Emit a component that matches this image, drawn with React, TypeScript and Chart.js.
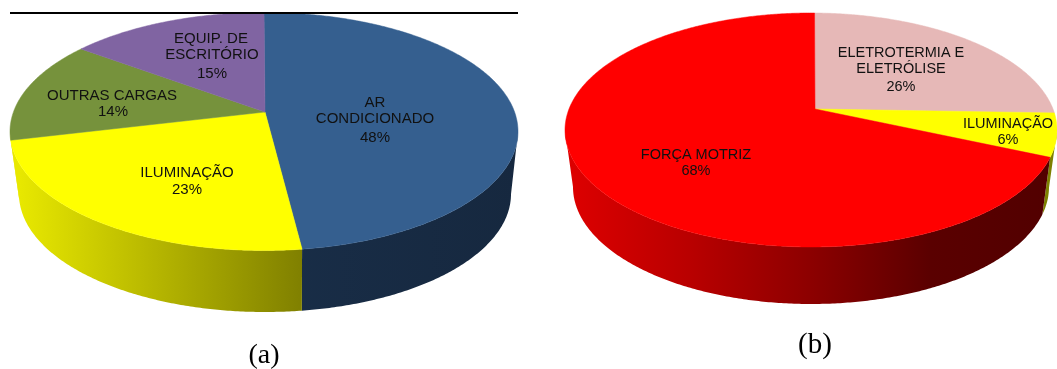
import React, { useEffect, useRef } from "react";
import { Chart, registerables } from "chart.js";

Chart.register(...registerables);

// Electricity end-use shares, in percent
const commercialUses = ["AR CONDICIONADO", "ILUMINAÇÃO", "OUTRAS CARGAS", "EQUIP. DE ESCRITÓRIO"];
const commercialShares = [48, 23, 14, 15];
const commercialColors = ["#355f8f", "#ffff00", "#76923c", "#8064a2"];

const industrialUses = ["ELETROTERMIA E ELETRÓLISE", "ILUMINAÇÃO", "FORÇA MOTRIZ"];
const industrialShares = [26, 6, 68];
const industrialColors = ["#e6b8b7", "#ffff00", "#ff0000"];

type TextLine = [string, number, number];

const commercialLabels: TextLine[] = [
  ["AR", 375, 103],
  ["CONDICIONADO", 375, 119],
  ["48%", 375, 138],
  ["ILUMINAÇÃO", 187, 173],
  ["23%", 187, 190],
  ["OUTRAS CARGAS", 112, 96],
  ["14%", 113, 112],
  ["EQUIP. DE", 211, 39],
  ["ESCRITÓRIO", 212, 55],
  ["15%", 212, 74],
];

const industrialLabels: TextLine[] = [
  ["ELETROTERMIA E", 371, 53],
  ["ELETRÓLISE", 371, 69],
  ["26%", 371, 87],
  ["ILUMINAÇÃO", 478, 124],
  ["6%", 478, 140],
  ["FORÇA MOTRIZ", 166, 155],
  ["68%", 166, 171],
];

type Solid = {
  cx: number; cy: number; rx: number; ry: number;
  apexX: number; apexY: number;
  baseCx: number; baseCy: number; baseRx: number; baseRy: number;
  leanX: number; leanY: number;
  sides: string[][];
  labels: TextLine[];
  labelFont: string;
  caption: string; captionX: number; captionY: number; captionFont: string;
  rule: boolean;
};

// Tilted disc: a rim angle (clockwise from the top) lands on the ellipse after
// a disc-preserving map, which is what foreshortening does to the slice edges.
function rimUnit(t: number, s: Solid) {
  const zr = Math.sin(t);
  const zi = Math.cos(t);
  const nr = zr + s.leanX;
  const ni = zi + s.leanY;
  const dr = 1 + s.leanX * zr + s.leanY * zi;
  const di = s.leanX * zi - s.leanY * zr;
  const m = dr * dr + di * di;
  return { x: (nr * dr + ni * di) / m, y: (ni * dr - nr * di) / m };
}

const solidPlugin = {
  id: "solidPie",
  beforeDatasetsDraw(chart: any, _a: any, opts: Solid) {
    const ctx: CanvasRenderingContext2D = chart.ctx;
    const arcs = chart.getDatasetMeta(0).data;
    const colors = chart.data.datasets[0].backgroundColor as string[];

    // side wall, only where the rim faces the viewer
    arcs.forEach((arc: any, i: number) => {
      const t0 = arc.startAngle + Math.PI / 2;
      const t1 = arc.endAngle + Math.PI / 2;
      const visible: { x: number; y: number }[] = [];
      const steps = Math.max(8, Math.ceil(((t1 - t0) * 180) / Math.PI) * 2);
      for (let k = 0; k <= steps; k++) {
        const u = rimUnit(t0 + ((t1 - t0) * k) / steps, opts);
        if (u.y <= 0) visible.push(u);
      }
      if (visible.length < 2) return;
      const stops = opts.sides[i];
      const grad = ctx.createLinearGradient(
        opts.baseCx - opts.baseRx, 0,
        Math.min(opts.cx + opts.rx, opts.cx + visible[0].x * opts.rx), 0);
      stops.forEach((c, n) => grad.addColorStop(n / (stops.length - 1), c));
      ctx.beginPath();
      visible.forEach((u, k) => {
        const x = opts.cx + u.x * opts.rx;
        const y = opts.cy - u.y * opts.ry;
        if (k === 0) ctx.moveTo(x, y); else ctx.lineTo(x, y);
      });
      [...visible].reverse().forEach((u) => {
        ctx.lineTo(opts.baseCx + u.x * opts.baseRx, opts.baseCy - u.y * opts.baseRy);
      });
      ctx.closePath();
      ctx.fillStyle = grad;
      ctx.fill();
    });

    // top face, each slice fanned out from the foreshortened centre
    arcs.forEach((arc: any, i: number) => {
      const t0 = arc.startAngle + Math.PI / 2;
      const t1 = arc.endAngle + Math.PI / 2;
      const steps = Math.max(8, Math.ceil(((t1 - t0) * 180) / Math.PI) * 2);
      ctx.beginPath();
      ctx.moveTo(opts.apexX, opts.apexY);
      for (let k = 0; k <= steps; k++) {
        const u = rimUnit(t0 + ((t1 - t0) * k) / steps, opts);
        ctx.lineTo(opts.cx + u.x * opts.rx, opts.cy - u.y * opts.ry);
      }
      ctx.closePath();
      ctx.fillStyle = colors[i];
      ctx.strokeStyle = colors[i];
      ctx.lineWidth = 0.5;
      ctx.fill();
      ctx.stroke();
    });
    return false;
  },
  afterDraw(chart: any, _a: any, opts: Solid) {
    const ctx: CanvasRenderingContext2D = chart.ctx;
    ctx.save();
    if (opts.rule) {
      ctx.fillStyle = "#000";
      ctx.fillRect(10, 12, 508, 2);
    }
    ctx.textAlign = "center";
    ctx.textBaseline = "middle";
    ctx.fillStyle = "#111";
    ctx.font = opts.labelFont;
    opts.labels.forEach(([text, x, y]) => ctx.fillText(text, x, y));
    ctx.fillStyle = "#000";
    ctx.font = opts.captionFont;
    ctx.fillText(opts.caption, opts.captionX, opts.captionY);
    ctx.restore();
  },
};

function SolidPie(props: {
  uses: string[]; shares: number[]; colors: string[];
  solid: Solid; left: number; width: number;
}) {
  const ref = useRef<HTMLCanvasElement>(null);
  useEffect(() => {
    const chart = new Chart(ref.current!, {
      type: "pie",
      data: {
        labels: props.uses,
        datasets: [{ data: props.shares, backgroundColor: props.colors, borderWidth: 0 }],
      },
      options: {
        animation: false,
        responsive: false,
        events: [],
        plugins: {
          legend: { display: false },
          tooltip: { enabled: false },
          solidPie: props.solid,
        } as any,
      },
      plugins: [solidPlugin],
    });
    return () => chart.destroy();
  }, []);
  return (
    <canvas
      ref={ref}
      width={props.width}
      height={369}
      style={{ position: "absolute", left: props.left, top: 0, width: props.width, height: 369 }}
    />
  );
}

const commercialSolid: Solid = {
  cx: 264, cy: 131.5, rx: 254, ry: 119,
  apexX: 265, apexY: 112,
  baseCx: 265, baseCy: 194, baseRx: 246, baseRy: 118,
  leanX: 0, leanY: 0.09,
  sides: [["#1b3350", "#16283f"], ["#e8e800", "#808000"], ["#e8e800", "#e8e800"], ["#e8e800", "#e8e800"]],
  labels: commercialLabels,
  labelFont: '15px "Liberation Sans"',
  caption: "(a)", captionX: 264, captionY: 356, captionFont: '28px "Liberation Serif"',
  rule: true,
};

const industrialSolid: Solid = {
  cx: 281, cy: 130, rx: 246, ry: 117,
  apexX: 285, apexY: 109,
  baseCx: 281, baseCy: 187, baseRx: 238, baseRy: 117,
  leanX: 0.008, leanY: 0.105,
  sides: [
    ["#7d8000", "#7d8000"],
    ["#7d8000", "#7d8000"],
    ["#dc0000", "#b80000", "#8c0000", "#5a0000", "#520000"],
  ],
  labels: industrialLabels,
  labelFont: '14.5px "Liberation Sans"',
  caption: "(b)", captionX: 285, captionY: 345, captionFont: '29px "Liberation Serif"',
  rule: false,
};

export default function App() {
  return (
    <div style={{ position: "fixed", left: 0, top: 0, width: 1057, height: 369, background: "#fff", overflow: "hidden" }}>
      <SolidPie uses={commercialUses} shares={commercialShares} colors={commercialColors} solid={commercialSolid} left={0} width={530} />
      <SolidPie uses={industrialUses} shares={industrialShares} colors={industrialColors} solid={industrialSolid} left={530} width={527} />
    </div>
  );
}
